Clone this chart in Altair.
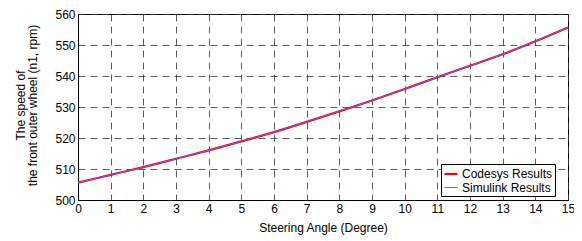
import altair as alt
import pandas as pd

angles = [0, 1, 2, 3, 4, 5, 6, 7, 8, 9, 10, 11, 12, 13, 14, 15]
codesys = [505.6, 508.1, 510.6, 513.3, 516.0, 518.9, 521.9, 525.2, 528.6, 532.1, 535.8, 539.6, 543.3, 547.0, 551.2, 555.7]
simulink = [505.6, 508.1, 510.6, 513.3, 516.0, 518.9, 521.9, 525.2, 528.6, 532.1, 535.8, 539.6, 543.3, 547.0, 551.2, 555.7]
series_names = ["Codesys Results", "Simulink Results"]
x_ticks = list(range(0, 16))
y_ticks = [500, 510, 520, 530, 540, 550, 560]

rows = []
for a, v in zip(angles, codesys):
    rows.append({"angle": a, "speed": v, "series": series_names[0]})
for a, v in zip(angles, simulink):
    rows.append({"angle": a, "speed": v, "series": series_names[1]})
df = pd.DataFrame(rows)

FONT = "Liberation Sans"

chart = alt.Chart(df).mark_line(interpolate="monotone").encode(
    x=alt.X("angle:Q", scale=alt.Scale(domain=[0, 15], nice=False),
            axis=alt.Axis(values=x_ticks, title="Steering Angle (Degree)", titleY=22,
                          titleBaseline="top", labelPadding=3, labelFlush=False)),
    y=alt.Y("speed:Q", scale=alt.Scale(domain=[500, 560], nice=False, zero=False),
            axis=alt.Axis(values=y_ticks, title=["The speed of", "the front outer wheel (n1, rpm)"],
                          titleX=-63, titleY=91, titleBaseline="top", titleLineHeight=12,
                          labelPadding=3, labelFlush=False)),
    color=alt.Color("series:N", scale=alt.Scale(domain=series_names, range=["#ff0000", "#6060ff"]),
                    legend=alt.Legend(title=None, orient="none", legendX=363, legendY=150,
                                      strokeColor="black", fillColor="white", padding=2,
                                      symbolType="stroke", symbolSize=170, rowPadding=0,
                                      labelFontSize=12, labelFont=FONT, labelColor="black",
                                      symbolStrokeWidth=2, labelOffset=3, labelLimit=200)),
    strokeWidth=alt.StrokeWidth("series:N", scale=alt.Scale(domain=series_names, range=[2.2, 1.0]),
                                legend=None),
    order=alt.Order("series:N"),
).properties(
    width=490, height=186,
    autosize=alt.AutoSizeParams(type="none"),
    padding={"left": 70, "top": 6, "right": 6, "bottom": 42},
).configure_view(
    stroke="black", strokeWidth=1
).configure_axis(
    labelFont=FONT, titleFont=FONT, labelFontSize=12, titleFontSize=12,
    labelColor="black", titleColor="black", titleFontWeight="normal",
    domainColor="black", ticks=False,
    grid=True, gridColor="#333333", gridDash=[7, 5], gridOpacity=0.8, gridWidth=1,
)

chart.save("out.html", embed_options={"renderer": "svg", "actions": False})
